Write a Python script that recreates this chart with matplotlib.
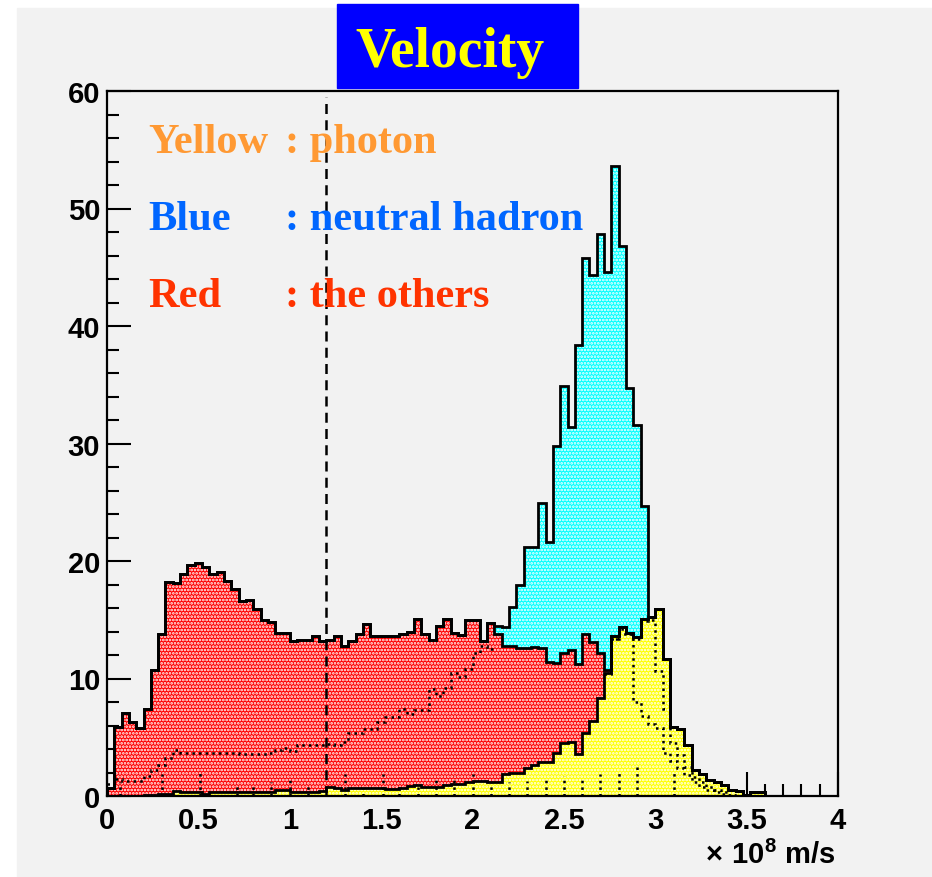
import numpy as np
import matplotlib
matplotlib.use("Agg")
import matplotlib.pyplot as plt
from matplotlib.patches import Rectangle
from matplotlib.ticker import MultipleLocator

# 100 bins from 0 to 4 (x 10^8 m/s)
edges = np.linspace(0.0, 4.0, 101)

# photon (yellow), bottom of the stack
photon = np.array([
    0, 0, 0, 0, 0, 0.05, 0.1, 0.2, 0.2, 0.45,
    0.3, 0.3, 0.3, 0.2, 0.3, 0.3, 0.3, 0.3, 0.35, 0.35,
    0.35, 0.35, 0.35, 0.5, 0.5, 0.35, 0.35, 0.35, 0.35, 0.4,
    0.8, 0.7, 0.5, 0.65, 0.65, 0.65, 0.65, 0.65, 0.6, 0.6,
    0.7, 0.85, 0.95, 0.75, 0.75, 0.75, 0.9, 1.0, 1.0, 1.2,
    1.3, 1.3, 1.2, 1.2, 1.9, 2.0, 2.0, 2.4, 2.6, 2.9,
    2.9, 3.7, 4.5, 4.6, 3.6, 5.4, 6.4, 8.3, 10.5, 13.6,
    14.4, 13.9, 13.5, 15.1, 15.2, 15.9, 11.7, 5.9, 5.7, 4.3,
    2.2, 1.9, 1.4, 1.2, 0.9, 0.5, 0.45, 0.1, 0.35, 0.35,
    0, 0, 0, 0, 0, 0, 0, 0, 0, 0,
])

# the others (red), middle of the stack
others = np.array([
    0.7, 5.9, 7.1, 6.3, 5.8, 7.35, 10.6, 13.6, 18.0, 17.65,
    18.6, 19.4, 19.5, 19.3, 18.6, 18.8, 18.0, 17.3, 16.25, 16.35,
    15.55, 14.65, 14.45, 13.4, 13.4, 12.85, 12.95, 12.95, 13.25, 12.8,
    12.5, 12.9, 12.3, 12.55, 13.15, 13.95, 12.95, 12.95, 13.0, 13.0,
    13.1, 13.15, 14.15, 13.05, 12.55, 13.75, 14.2, 12.9, 12.7, 13.8,
    13.7, 11.9, 13.5, 12.6, 10.9, 10.8, 10.6, 10.2, 10.1, 9.7,
    8.5, 7.6, 7.7, 7.8, 7.6, 8.4, 6.7, 3.9, 0.2, 0,
    0, 0, 0, 0, 0, 0, 0, 0, 0, 0,
    0, 0, 0, 0, 0, 0, 0, 0, 0, 0,
    0, 0, 0, 0, 0, 0, 0, 0, 0, 0,
])

# neutral hadron (cyan), top of the stack
neutral = np.array([
    0, 0, 0, 0, 0, 0, 0, 0, 0, 0,
    0, 0, 0, 0, 0, 0, 0, 0, 0, 0,
    0, 0, 0, 0, 0, 0, 0, 0, 0, 0,
    0, 0, 0, 0, 0, 0, 0, 0, 0, 0,
    0, 0, 0, 0, 0, 0, 0, 0, 0, 0,
    0, 0, 0, 0.7, 1.6, 3.3, 5.4, 8.6, 8.5, 12.3,
    10.2, 18.5, 22.7, 19.0, 27.2, 32.0, 31.2, 35.6, 33.9, 40.0,
    32.4, 20.8, 18.1, 9.6, 0, 0, 0, 0, 0, 0,
    0, 0, 0, 0, 0, 0, 0, 0, 0, 0,
    0, 0, 0, 0, 0, 0, 0, 0, 0, 0,
])

# dotted sub-component outlines (stack levels as read), with their first bin
dotted_a_start = 0
dotted_a = [1.0, 1.45, 1.3, 1.3, 1.3, 1.7, 2.2, 2.6, 3.2, 3.9,
            3.7, 3.7, 3.7, 3.7, 3.7, 3.7, 3.7, 3.7, 3.6, 3.6,
            3.6, 3.6, 3.7, 3.9, 4.1, 3.8, 4.3, 4.3, 4.3, 4.3,
            4.4, 4.3, 4.6, 5.4, 5.4, 5.7, 5.7, 6.3, 6.7, 6.7,
            7.4, 7.0, 7.3, 7.3, 9.1, 8.5, 9.2, 10.5, 10.1, 10.8,
            12.2, 12.8, 12.5]
dotted_b_start = 68
dotted_b = [10.4, 13.4, 13.8, 13.8, 8.0, 6.8, 6.1, 5.8, 3.7, 3.0,
            2.4, 1.8, 1.2, 0.8, 0.5, 0.3, 0.2, 0.1]
dotted_c_start = 69
dotted_c = [13.4, 14.2, 13.8, 13.4, 14.9, 15.0, 10.6, 7.4, 4.5, 3.5,
            2.5, 1.6, 1.2, 0.8, 0.5, 0.3, 0.1]

# sparse dotted spikes near the bottom
spike_x = [0.07, 0.30, 0.51, 0.71, 0.80, 0.90, 1.00, 1.10, 1.30, 1.40,
           1.51, 1.60, 1.70, 1.80, 1.90, 2.00, 2.10, 2.20, 2.30, 2.40,
           2.50, 2.60, 2.70, 2.80, 2.90, 3.10]
spike_h = [1.2, 1.9, 2.0, 0.9, 1.0, 1.2, 1.5, 1.0, 1.9, 0.6,
           1.9, 1.0, 0.8, 1.4, 1.7, 1.9, 1.2, 1.2, 1.3, 1.6,
           1.7, 1.6, 1.9, 2.0, 2.5, 2.0]

cut_value = 1.2

legend_rows = [("Yellow", ": photon", "#ff9933"),
               ("Blue", ": neutral hadron", "#0066ff"),
               ("Red", ": the others", "#ff3300")]

W, H = 932, 878
plt.rcParams["hatch.linewidth"] = 1.3
plt.rcParams["mathtext.fontset"] = "custom"
plt.rcParams["mathtext.rm"] = "Liberation Sans:bold"
plt.rcParams["mathtext.bf"] = "Liberation Sans:bold"

fig = plt.figure(figsize=(W / 100, H / 100), dpi=100)
fig.patch.set_facecolor("white")
fig.add_artist(Rectangle((17 / W, 0), 1 - 17 / W, 1 - 9 / H,
                         transform=fig.transFigure, color="#f2f2f2", zorder=0))

def px(x, y):
    return x / W, 1 - y / H

ax = fig.add_axes([107 / W, 1 - 797 / H, (838 - 107) / W, (797 - 92) / H])
ax.set_facecolor("#f2f2f2")

lvl_y = photon
lvl_r = photon + others
lvl_c = lvl_r + neutral

layers = [(np.zeros_like(photon), lvl_y, "#ffff00"),
          (lvl_y, lvl_r, "#ff0000"),
          (lvl_r, lvl_c, "#00ffff")]
for base, top, col in layers:
    ax.stairs(top, edges, baseline=base, fill=True, facecolor=col,
              edgecolor="white", hatch=".....", linewidth=0, zorder=2)

# dotted component outlines
for start, vals in [(dotted_a_start, dotted_a), (dotted_b_start, dotted_b),
                    (dotted_c_start, dotted_c)]:
    ax.stairs(vals, edges[start:start + len(vals) + 1], baseline=None,
              color="black", linestyle=":", linewidth=1.8, zorder=3)
ax.vlines(spike_x, 0, spike_h, colors="black", linestyles=":", linewidth=1.8, zorder=3)

for top in (lvl_y, lvl_r, lvl_c):
    ax.stairs(top, edges, baseline=0, fill=False, color="black",
              linewidth=2.0, zorder=4)

ax.axvline(cut_value, ymin=0, ymax=0.992, color="black", linestyle=(0, (4, 2.5)),
           linewidth=1.8, zorder=5)

ax.set_xlim(0, 4)
ax.set_ylim(0, 60)
ax.xaxis.set_major_locator(MultipleLocator(0.5))
ax.xaxis.set_minor_locator(MultipleLocator(0.1))
ax.yaxis.set_major_locator(MultipleLocator(10))
ax.yaxis.set_minor_locator(MultipleLocator(2))
ax.tick_params(which="both", direction="in", top=False, right=False, width=1.5)
ax.tick_params(which="major", length=17)
ax.tick_params(which="minor", length=8.5)
ax.tick_params(axis="x", pad=7)
ax.tick_params(axis="y", pad=5)
ax.xaxis.set_major_formatter(lambda v, p: f"{v:g}")
for lab in ax.get_xticklabels() + ax.get_yticklabels():
    lab.set_fontfamily("Liberation Sans")
    lab.set_fontweight("bold")
    lab.set_fontsize(21)
for s in ax.spines.values():
    s.set_linewidth(1.6)

# title box
fig.add_artist(Rectangle(px(337, 89), 241 / W, 84 / H, transform=fig.transFigure,
                         color="#0000ff", zorder=1))
fig.text(*px(450, 67), "Velocity", ha="center", va="baseline", color="#ffff00",
         family="Liberation Serif", fontweight="bold", fontsize=40, zorder=2)

# legend text
for i, (name, desc, col) in enumerate(legend_rows):
    yb = 153 + 77 * i
    fig.text(*px(148, yb), name, ha="left", va="baseline", color=col,
             family="Liberation Serif", fontweight="bold", fontsize=30.5)
    fig.text(*px(285, yb), desc, ha="left", va="baseline", color=col,
             family="Liberation Serif", fontweight="bold", fontsize=30.5)

fig.text(*px(835, 864), r"$\times\ 10^{8}$ m/s", ha="right", va="baseline",
         family="Liberation Sans", fontweight="bold", fontsize=21)

fig.savefig("out.png", dpi=100)
